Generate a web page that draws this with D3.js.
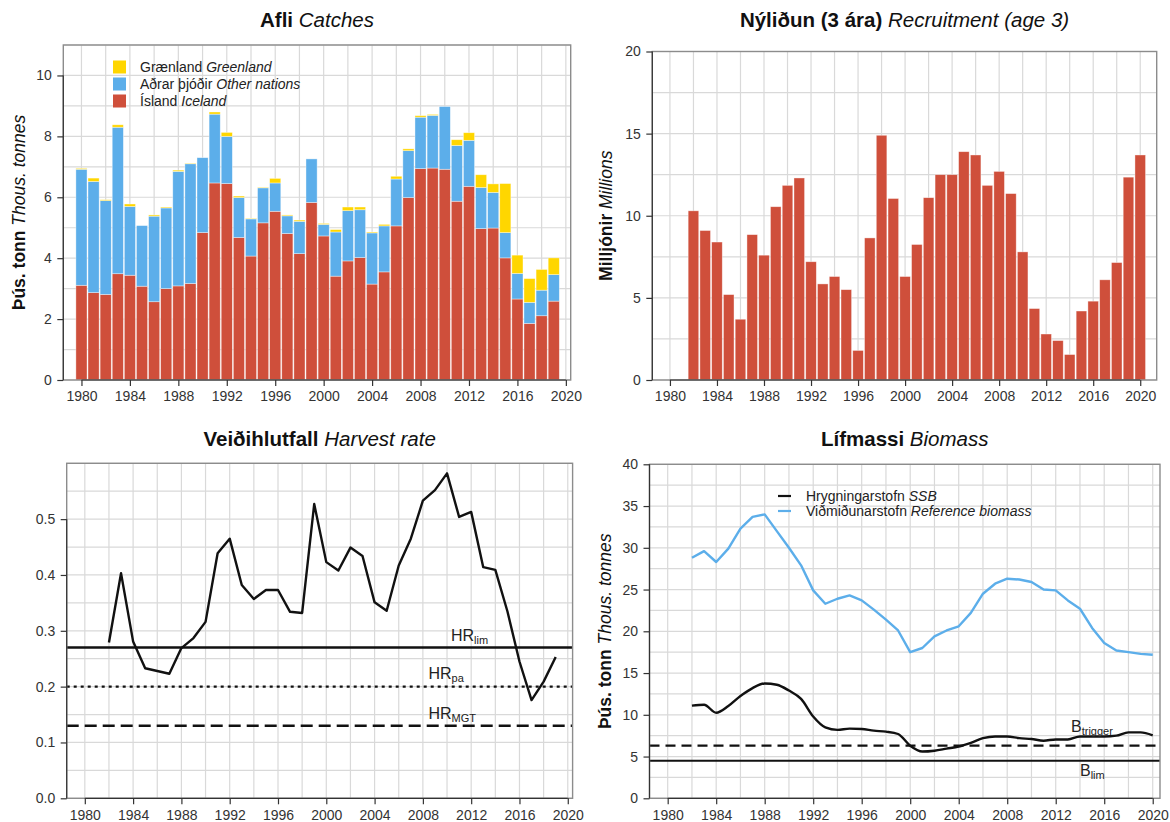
<!DOCTYPE html>
<html>
<head>
<meta charset="utf-8">
<script src="https://cdn.jsdelivr.net/npm/d3@7"></script>
<style>
  body { margin: 0; background: #fff; }
  svg { font-family: "Liberation Sans", Arial, Helvetica, sans-serif; }
  .tick text { fill: #333; font-size: 14px; }
  .tick line { stroke: #333; stroke-width: 1.2; }
</style>
</head>
<body>
<script>
// catches, thousand tonnes
var catchYears = [1980, 1981, 1982, 1983, 1984, 1985, 1986, 1987, 1988, 1989,
  1990, 1991, 1992, 1993, 1994, 1995, 1996, 1997, 1998, 1999,
  2000, 2001, 2002, 2003, 2004, 2005, 2006, 2007, 2008, 2009,
  2010, 2011, 2012, 2013, 2014, 2015, 2016, 2017, 2018, 2019];
var iceland = [3.11, 2.87, 2.81, 3.49, 3.44, 3.08, 2.57, 3.00, 3.09, 3.17,
  4.84, 6.47, 6.45, 4.68, 4.07, 5.16, 5.54, 4.81, 4.15, 5.83,
  4.73, 3.41, 3.91, 4.02, 3.15, 3.55, 5.06, 5.99, 6.94, 6.96,
  6.92, 5.87, 6.36, 4.97, 4.99, 4.01, 2.66, 1.86, 2.11, 2.59];
var otherNations = [3.81, 3.65, 3.08, 4.81, 2.26, 1.99, 2.81, 2.65, 3.76, 3.93,
  2.46, 2.26, 1.55, 1.31, 1.22, 1.15, 0.93, 0.58, 1.06, 1.43,
  0.38, 1.45, 1.65, 1.57, 1.68, 1.51, 1.54, 1.54, 1.69, 1.73,
  2.06, 1.83, 1.51, 1.35, 1.17, 0.83, 0.84, 0.69, 0.84, 0.87];
var greenland = [0.03, 0.11, 0.03, 0.08, 0.08, 0.00, 0.04, 0.03, 0.04, 0.02,
  0.00, 0.07, 0.13, 0.05, 0.02, 0.02, 0.15, 0.03, 0.04, 0.00,
  0.03, 0.08, 0.12, 0.09, 0.03, 0.05, 0.09, 0.06, 0.05, 0.03,
  0.00, 0.19, 0.25, 0.42, 0.28, 1.61, 0.60, 0.78, 0.68, 0.55];

// recruitment age 3, millions
var recYears = [1982, 1983, 1984, 1985, 1986, 1987, 1988, 1989, 1990, 1991,
  1992, 1993, 1994, 1995, 1996, 1997, 1998, 1999, 2000, 2001,
  2002, 2003, 2004, 2005, 2006, 2007, 2008, 2009, 2010, 2011,
  2012, 2013, 2014, 2015, 2016, 2017, 2018, 2019, 2020];
var recruitment = [10.3, 9.1, 8.4, 5.2, 3.7, 8.85, 7.6, 10.55, 11.85, 12.3,
  7.2, 5.85, 6.3, 5.5, 1.8, 8.65, 14.9, 11.05, 6.3, 8.25,
  11.1, 12.5, 12.5, 13.9, 13.7, 11.85, 12.7, 11.35, 7.8, 4.35,
  2.8, 2.4, 1.55, 4.2, 4.8, 6.1, 7.15, 12.35, 13.7];

// harvest rate
var hrYears = [1982, 1983, 1984, 1985, 1986, 1987, 1988, 1989, 1990, 1991,
  1992, 1993, 1994, 1995, 1996, 1997, 1998, 1999, 2000, 2001,
  2002, 2003, 2004, 2005, 2006, 2007, 2008, 2009, 2010, 2011,
  2012, 2013, 2014, 2015, 2016, 2017, 2018, 2019];
var harvestRate = [0.279, 0.403, 0.281, 0.233, 0.228, 0.223, 0.269, 0.287, 0.316, 0.439,
  0.465, 0.382, 0.357, 0.373, 0.373, 0.334, 0.332, 0.527, 0.423, 0.408,
  0.449, 0.434, 0.351, 0.336, 0.417, 0.465, 0.533, 0.552, 0.582, 0.504,
  0.513, 0.414, 0.409, 0.335, 0.245, 0.176, 0.209, 0.253];
var hrLim = 0.27, hrPa = 0.20, hrMgt = 0.13;

// biomass, thousand tonnes
var bioYears = recYears;
var refBiomass = [28.8, 29.6, 28.3, 29.9, 32.3, 33.7, 34.0, 32.0, 30.0, 27.9,
  24.9, 23.3, 23.9, 24.3, 23.7, 22.6, 21.4, 20.1, 17.5, 18.0,
  19.4, 20.1, 20.6, 22.2, 24.5, 25.7, 26.3, 26.2, 25.9, 25.0,
  24.9, 23.7, 22.7, 20.4, 18.6, 17.7, 17.5, 17.3, 17.2];
var ssb = [11.1, 11.2, 10.25, 11.05, 12.25, 13.2, 13.75, 13.6, 12.9, 11.9,
  9.8, 8.5, 8.2, 8.35, 8.3, 8.1, 7.98, 7.7, 6.3, 5.6,
  5.7, 5.95, 6.2, 6.65, 7.2, 7.4, 7.4, 7.2, 7.1, 6.9,
  7.05, 7.05, 7.4, 7.4, 7.4, 7.5, 7.9, 7.9, 7.55];
var bTrigger = 6.3, bLim = 4.5;

var xTicks = [1980, 1984, 1988, 1992, 1996, 2000, 2004, 2008, 2012, 2016, 2020];
var xGrid = d3.range(1980, 2021, 2);

var red = "#cf4f3b", blue = "#5caeea", yellow = "#ffd600";

var svg = d3.select("body").append("svg")
  .attr("width", 1170)
  .attr("height", 822);

function makePanel(p) {
  var x = d3.scaleLinear().domain(p.xd).range([p.l, p.r]);
  var y = d3.scaleLinear().domain(p.yd).range([p.b, p.t]);
  var g = svg.append("g");

  // grid
  g.append("g").selectAll("line")
    .data(xGrid).enter().append("line")
    .attr("x1", d => x(d)).attr("x2", d => x(d))
    .attr("y1", p.t).attr("y2", p.b)
    .attr("stroke", "#d9d9d9").attr("stroke-width", 1.2);
  g.append("g").selectAll("line")
    .data(p.yGrid).enter().append("line")
    .attr("x1", p.l).attr("x2", p.r)
    .attr("y1", d => y(d)).attr("y2", d => y(d))
    .attr("stroke", "#d9d9d9").attr("stroke-width", 1.2);

  var plot = g.append("g");

  // box
  g.append("rect")
    .attr("x", p.l).attr("y", p.t)
    .attr("width", p.r - p.l).attr("height", p.b - p.t)
    .attr("fill", "none").attr("stroke", "#8c8c8c").attr("stroke-width", 1.4);

  // axes
  var xAxis = g.append("g")
    .attr("transform", "translate(0," + p.b + ")")
    .call(d3.axisBottom(x).tickValues(xTicks).tickSize(6).tickPadding(5.5).tickFormat(d3.format("d")));
  xAxis.select(".domain").remove();
  xAxis.append("line")
    .attr("x1", x(xTicks[0])).attr("x2", x(xTicks[xTicks.length - 1]))
    .attr("stroke", "#333").attr("stroke-width", 1.2);

  var yAxis = g.append("g")
    .attr("transform", "translate(" + p.l + ",0)")
    .call(d3.axisLeft(y).tickValues(p.yTicks).tickSize(6).tickPadding(5.5).tickFormat(p.yFmt));
  yAxis.select(".domain").remove();
  yAxis.append("line")
    .attr("y1", y(p.yTicks[0])).attr("y2", y(p.yTicks[p.yTicks.length - 1]))
    .attr("stroke", "#333").attr("stroke-width", 1.2);
  g.selectAll(".tick text").attr("font-family", null).attr("font-size", null);

  // title
  var title = g.append("text")
    .attr("x", (p.l + p.r) / 2).attr("y", p.titleY)
    .attr("text-anchor", "middle")
    .attr("font-size", 20.5)
    .attr("fill", "#111");
  title.append("tspan").attr("font-weight", "bold").text(p.title[0]);
  title.append("tspan").attr("font-style", "italic").text(" " + p.title[1]);

  if (p.ylab) {
    var yl = g.append("text")
      .attr("transform", "translate(" + p.ylabX + "," + (p.t + p.b) / 2 + ") rotate(-90)")
      .attr("text-anchor", "middle")
      .attr("font-size", 17.5)
      .attr("fill", "#111");
    yl.append("tspan").attr("font-weight", "bold").text(p.ylab[0]);
    yl.append("tspan").attr("font-style", "italic").text(" " + p.ylab[1]);
  }
  return { x: x, y: y, g: plot };
}

function subLabel(g, x, y, main, sub) {
  var t = g.append("text").attr("x", x).attr("y", y)
    .attr("font-size", 16).attr("fill", "#222");
  t.append("tspan").text(main);
  t.append("tspan").attr("font-size", 11).attr("dy", 3).text(sub);
}

// ---- Afli / Catches
var p1 = makePanel({
  l: 63.3, r: 570.7, t: 45, b: 380,
  xd: [1978.5, 2020.4], yd: [0, 11],
  yTicks: [0, 2, 4, 6, 8, 10], yGrid: d3.range(0, 12, 1), yFmt: d3.format("d"),
  title: ["Afli", "Catches"], titleY: 27,
  ylab: ["Þús. tonn", "Thous. tonnes"], ylabX: 25
});

var catchRows = catchYears.map(function (yr, i) {
  return { year: yr, iceland: iceland[i], other: otherNations[i], greenland: greenland[i] };
});
var stack = d3.stack().keys(["iceland", "other", "greenland"])(catchRows);
var stackColors = { iceland: red, other: blue, greenland: yellow };
var bw1 = (p1.x(1) - p1.x(0)) * 0.92;

p1.g.selectAll(".layer")
  .data(stack).enter().append("g")
  .attr("fill", d => stackColors[d.key])
  .selectAll("rect")
  .data(d => d).enter().append("rect")
  .attr("x", d => p1.x(d.data.year) - bw1 / 2)
  .attr("width", bw1)
  .attr("y", d => p1.y(d[1]))
  .attr("height", d => Math.max(0, p1.y(d[0]) - p1.y(d[1])))
  .attr("stroke", "rgba(255,255,255,0.55)")
  .attr("stroke-width", 0.7);

var leg1 = [
  { c: yellow, a: "Grænland", b: "Greenland" },
  { c: blue, a: "Aðrar þjóðir", b: "Other nations" },
  { c: red, a: "Ísland", b: "Iceland" }
];
var lg = p1.g.append("g");
lg.selectAll("rect").data(leg1).enter().append("rect")
  .attr("x", 113).attr("y", (d, i) => 60.5 + i * 17)
  .attr("width", 13).attr("height", 13)
  .attr("fill", d => d.c);
var lt = lg.selectAll("text").data(leg1).enter().append("text")
  .attr("x", 140).attr("y", (d, i) => 72 + i * 17)
  .attr("font-size", 14).attr("fill", "#222");
lt.append("tspan").text(d => d.a);
lt.append("tspan").attr("font-style", "italic").text(d => " " + d.b);

// ---- Nýliðun / Recruitment
var p2 = makePanel({
  l: 652.3, r: 1156.7, t: 51.5, b: 380,
  xd: [1978.5, 2021.4], yd: [0, 20],
  yTicks: [0, 5, 10, 15, 20], yGrid: d3.range(0, 21, 2.5), yFmt: d3.format("d"),
  title: ["Nýliðun (3 ára)", "Recruitment (age 3)"], titleY: 27,
  ylab: ["Milljónir", "Millions"], ylabX: 612
});
var bw2 = (p2.x(1) - p2.x(0)) * 0.9;
p2.g.selectAll("rect")
  .data(recYears).enter().append("rect")
  .attr("x", d => p2.x(d) - bw2 / 2)
  .attr("width", bw2)
  .attr("y", (d, i) => p2.y(recruitment[i]))
  .attr("height", (d, i) => p2.y(0) - p2.y(recruitment[i]))
  .attr("fill", red)
  .attr("stroke", "rgba(255,255,255,0.55)")
  .attr("stroke-width", 0.7);

// ---- Veiðihlutfall / Harvest rate
var p3 = makePanel({
  l: 66.7, r: 572.6, t: 463.3, b: 798.3,
  xd: [1978.5, 2020.4], yd: [0, 0.6],
  yTicks: [0, 0.1, 0.2, 0.3, 0.4, 0.5], yGrid: d3.range(0, 0.61, 0.05), yFmt: d3.format(".1f"),
  title: ["Veiðihlutfall", "Harvest rate"], titleY: 446
});
var refLines3 = [
  { v: hrLim, dash: null },
  { v: hrPa, dash: "3,4" },
  { v: hrMgt, dash: "12,6" }
];
p3.g.selectAll(".ref").data(refLines3).enter().append("line")
  .attr("x1", 66.7).attr("x2", 572.6)
  .attr("y1", d => p3.y(d.v)).attr("y2", d => p3.y(d.v))
  .attr("stroke", "#111").attr("stroke-width", 2.4)
  .attr("stroke-dasharray", d => d.dash);
p3.g.append("path")
  .datum(hrYears)
  .attr("fill", "none").attr("stroke", "#111").attr("stroke-width", 2.4)
  .attr("stroke-linejoin", "round")
  .attr("d", d3.line().x(d => p3.x(d)).y((d, i) => p3.y(harvestRate[i])));
subLabel(p3.g, 451, p3.y(hrLim) - 6.5, "HR", "lim");
subLabel(p3.g, 428.5, p3.y(hrPa) - 8, "HR", "pa");
subLabel(p3.g, 428.5, p3.y(hrMgt) - 6.5, "HR", "MGT");

// ---- Lífmassi / Biomass
var p4 = makePanel({
  l: 649.5, r: 1160, t: 464.3, b: 798.3,
  xd: [1978.5, 2020.6], yd: [0, 40],
  yTicks: [0, 5, 10, 15, 20, 25, 30, 35, 40], yGrid: d3.range(0, 41, 2.5), yFmt: d3.format("d"),
  title: ["Lífmassi", "Biomass"], titleY: 446,
  ylab: ["Þús. tonn", "Thous. tonnes"], ylabX: 611
});
p4.g.append("line")
  .attr("x1", 649.5).attr("x2", 1160)
  .attr("y1", p4.y(bTrigger)).attr("y2", p4.y(bTrigger))
  .attr("stroke", "#111").attr("stroke-width", 2.2).attr("stroke-dasharray", "10,6");
p4.g.append("line")
  .attr("x1", 649.5).attr("x2", 1160)
  .attr("y1", p4.y(bLim)).attr("y2", p4.y(bLim))
  .attr("stroke", "#111").attr("stroke-width", 2.2);
p4.g.append("path")
  .datum(bioYears)
  .attr("fill", "none").attr("stroke", blue).attr("stroke-width", 2.4)
  .attr("stroke-linejoin", "round")
  .attr("d", d3.line().x(d => p4.x(d)).y((d, i) => p4.y(refBiomass[i])));
p4.g.append("path")
  .datum(bioYears)
  .attr("fill", "none").attr("stroke", "#111").attr("stroke-width", 2.4)
  .attr("d", d3.line().curve(d3.curveMonotoneX).x(d => p4.x(d)).y((d, i) => p4.y(ssb[i])));
subLabel(p4.g, 1071, 731.5, "B", "trigger");
subLabel(p4.g, 1080, 776, "B", "lim");

var leg4 = [
  { c: "#111", a: "Hrygningarstofn", b: "SSB" },
  { c: blue, a: "Viðmiðunarstofn", b: "Reference biomass" }
];
var lg4 = p4.g.append("g");
lg4.selectAll("line").data(leg4).enter().append("line")
  .attr("x1", 778).attr("x2", 791)
  .attr("y1", (d, i) => 496 + i * 15).attr("y2", (d, i) => 496 + i * 15)
  .attr("stroke", d => d.c).attr("stroke-width", 2.2);
var lt4 = lg4.selectAll("text").data(leg4).enter().append("text")
  .attr("x", 806).attr("y", (d, i) => 501 + i * 15)
  .attr("font-size", 14).attr("fill", "#222");
lt4.append("tspan").text(d => d.a);
lt4.append("tspan").attr("font-style", "italic").text(d => " " + d.b);
</script>
</body>
</html>
